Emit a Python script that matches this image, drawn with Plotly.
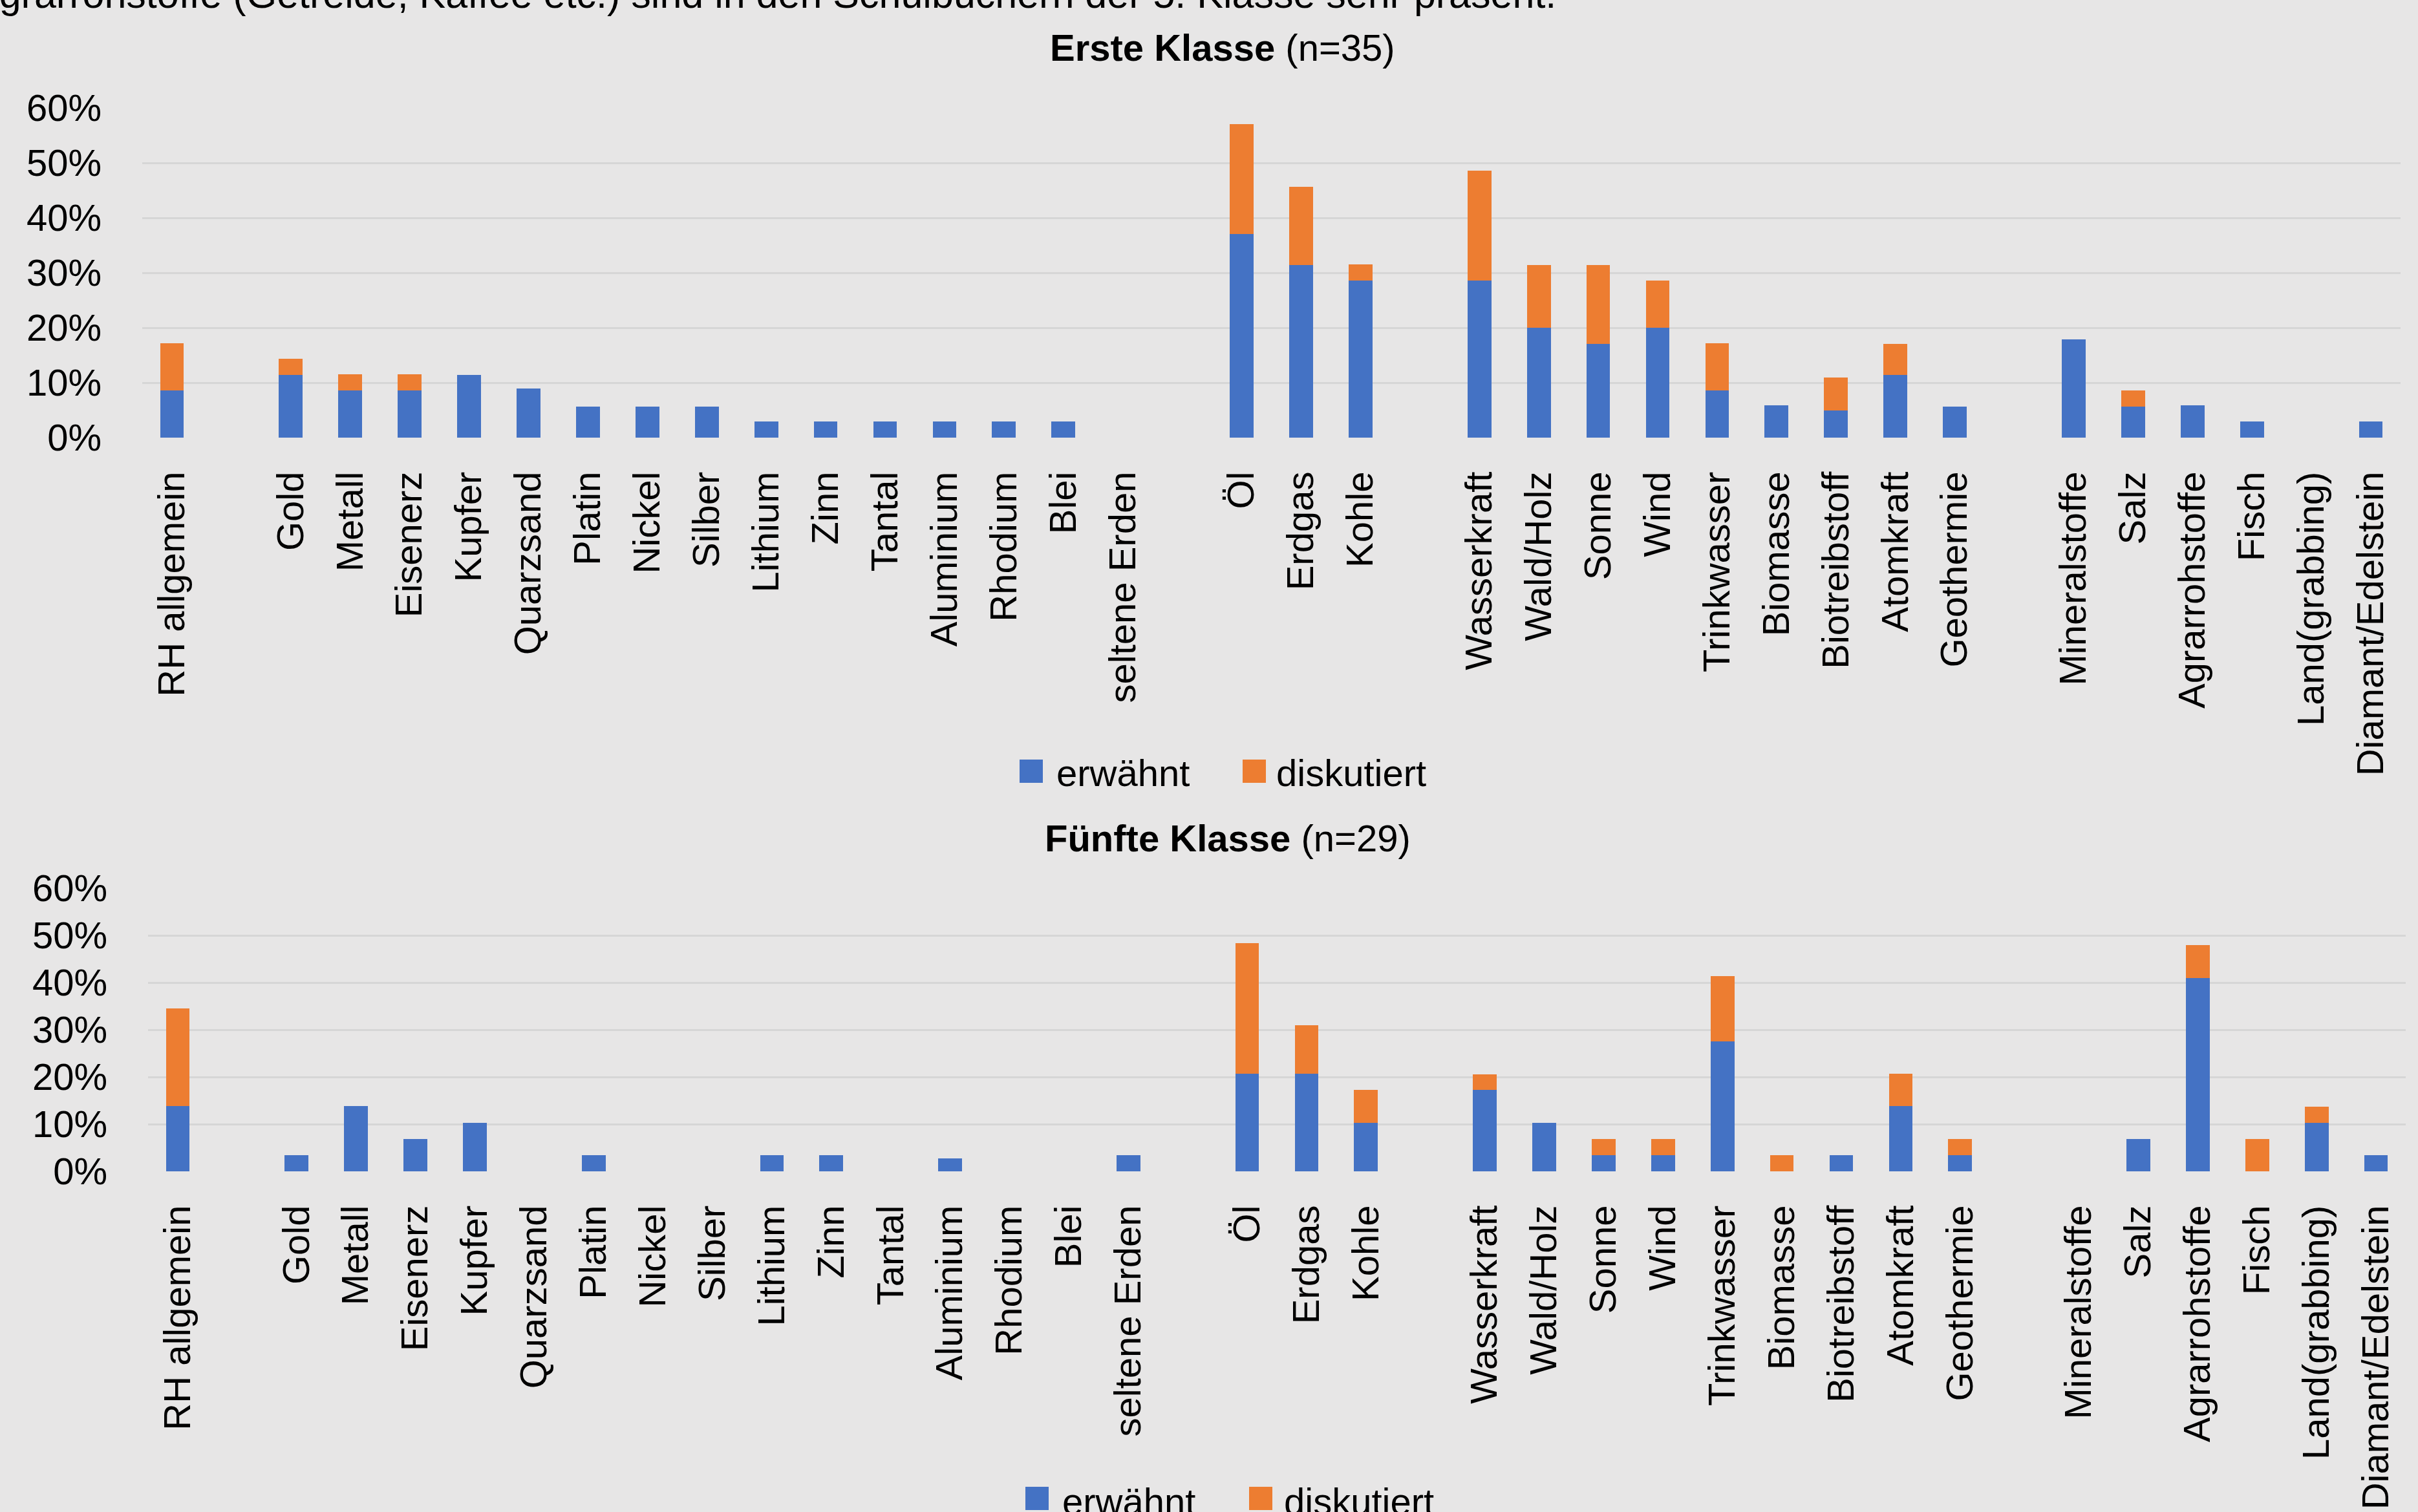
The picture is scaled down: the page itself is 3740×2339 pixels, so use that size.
import plotly.graph_objects as go

# ---------------- data ----------------
categories = ["RH allgemein", " ", "Gold", "Metall", "Eisenerz", "Kupfer", "Quarzsand", "Platin",
              "Nickel", "Silber", "Lithium", "Zinn", "Tantal", "Aluminium", "Rhodium", "Blei",
              "seltene Erden", "  ", "Öl", "Erdgas", "Kohle", "   ", "Wasserkraft", "Wald/Holz",
              "Sonne", "Wind", "Trinkwasser", "Biomasse", "Biotreibstoff", "Atomkraft", "Geothermie",
              "    ", "Mineralstoffe", "Salz", "Agrarrohstoffe", "Fisch", "Land(grabbing)",
              "Diamant/Edelstein"]

# Erste Klasse (n=35), values in %
erste_erwaehnt = [8.6, None, 11.4, 8.6, 8.6, 11.4, 8.9, 5.7, 5.7, 5.7, 2.9, 2.9, 2.9, 2.9, 2.9, 2.9,
                  0, None, 37.1, 31.4, 28.6, None, 28.6, 20.0, 17.1, 20.0, 8.6, 5.9, 4.9, 11.4, 5.7,
                  None, 17.9, 5.7, 5.9, 2.9, 0, 2.9]
erste_diskutiert = [8.6, None, 2.9, 2.9, 2.9, 0, 0, 0, 0, 0, 0, 0, 0, 0, 0, 0,
                    0, None, 20.0, 14.3, 2.9, None, 20.0, 11.4, 14.3, 8.6, 8.6, 0, 6.0, 5.7, 0,
                    None, 0, 2.9, 0, 0, 0, 0]

# Fünfte Klasse (n=29), values in %
fuenfte_erwaehnt = [13.8, None, 3.4, 13.8, 6.9, 10.3, 0, 3.4, 0, 0, 3.4, 3.4, 0, 2.8, 0, 0,
                    3.4, None, 20.7, 20.7, 10.3, None, 17.2, 10.3, 3.4, 3.4, 27.6, 0, 3.4, 13.8, 3.4,
                    None, 0, 6.9, 40.9, 0, 10.3, 3.4]
fuenfte_diskutiert = [20.7, None, 0, 0, 0, 0, 0, 0, 0, 0, 0, 0, 0, 0, 0, 0,
                      0, None, 27.6, 10.3, 6.9, None, 3.4, 0, 3.4, 3.4, 13.8, 3.4, 0, 6.9, 3.4,
                      None, 0, 0, 7.1, 6.9, 3.4, 0]

series_names = ["erwähnt", "diskutiert"]
colors = ["#4472C4", "#ED7D31"]
y_ticks = [0, 10, 20, 30, 40, 50, 60]
y_tick_labels = ["0%", "10%", "20%", "30%", "40%", "50%", "60%"]

title_top = "<b>Erste Klasse</b> (n=35)"
title_bottom = "<b>Fünfte Klasse</b> (n=29)"
cut_text = "Agrarrohstoffe (Getreide, Kaffee etc.) sind in den Schulbüchern der 5. Klasse sehr präsent."

# ---------------- figure ----------------
W, H = 3740, 2339
FONT = "Liberation Sans, Arial, sans-serif"
FS = 58
BG = "#E7E6E6"
GRID = "#D6D6D6"

fig = go.Figure()

for name, vals, col in zip(series_names, [erste_erwaehnt, erste_diskutiert], colors):
    fig.add_trace(go.Bar(x=categories, y=vals, name=name, marker=dict(color=col, line=dict(width=0)),
                         xaxis="x", yaxis="y", showlegend=False, hoverinfo="skip"))
for name, vals, col in zip(series_names, [fuenfte_erwaehnt, fuenfte_diskutiert], colors):
    fig.add_trace(go.Bar(x=categories, y=vals, name=name, marker=dict(color=col, line=dict(width=0)),
                         xaxis="x2", yaxis="y2", showlegend=False, hoverinfo="skip"))


def px_x(p):
    return p / W


def px_y(p):
    return 1 - p / H


xaxis_common = dict(type="category", categoryorder="array", categoryarray=categories,
                    tickangle=-90, tickfont=dict(family=FONT, size=FS, color="black"),
                    showgrid=False, zeroline=False, showline=False, ticks="",
                    automargin=False, fixedrange=True, ticklabelstandoff=40)
yaxis_common = dict(range=[0, 60], tickmode="array", tickvals=y_ticks, ticktext=y_tick_labels,
                    tickfont=dict(family=FONT, size=FS, color="black"),
                    showgrid=True, gridcolor=GRID, gridwidth=2.5, zeroline=False,
                    showline=False, ticks="", automargin=False, fixedrange=True,
                    ticklabelstandoff=62)

fig.update_layout(
    width=W, height=H,
    margin=dict(l=0, r=0, t=0, b=0),
    paper_bgcolor=BG, plot_bgcolor=BG,
    barmode="stack", bargap=0.6,
    font=dict(family=FONT, size=FS, color="black"),
    xaxis=dict(domain=[px_x(220), px_x(3713)], anchor="y", **xaxis_common),
    yaxis=dict(domain=[px_y(677), px_y(167)], anchor="x", **yaxis_common),
    xaxis2=dict(domain=[px_x(229), px_x(3721)], anchor="y2", **xaxis_common),
    yaxis2=dict(domain=[px_y(1812), px_y(1374)], anchor="x2", **yaxis_common),
    showlegend=False,
)

# titles and the clipped caption line at the very top
fig.add_annotation(text=title_top, x=px_x(1891), y=px_y(74), xref="paper", yref="paper",
                   xanchor="center", yanchor="middle", showarrow=False,
                   font=dict(family=FONT, size=FS, color="black"))
fig.add_annotation(text=title_bottom, x=px_x(1899), y=px_y(1297), xref="paper", yref="paper",
                   xanchor="center", yanchor="middle", showarrow=False,
                   font=dict(family=FONT, size=FS, color="black"))
fig.add_annotation(text=cut_text, x=px_x(2409), y=px_y(27), xref="paper", yref="paper",
                   xanchor="right", yanchor="bottom", showarrow=False,
                   font=dict(family=FONT, size=61, color="black"))

# legends (one under each chart): key squares + labels
legend_rows = [
    # (square x-lefts, text x-lefts, square top, row centre)
    ([1577, 1922], [1632, 1972], 1175, 1195),
    ([1586, 1932], [1641, 1984], 2300, 2322),
]
for sq_xs, tx_xs, sq_top, yc in legend_rows:
    for name, col, sx, tx in zip(series_names, colors, sq_xs, tx_xs):
        fig.add_shape(type="rect", xref="paper", yref="paper",
                      x0=px_x(sx), x1=px_x(sx + 36), y0=px_y(sq_top + 36), y1=px_y(sq_top),
                      fillcolor=col, line=dict(width=0))
        fig.add_annotation(text=name, x=px_x(tx), y=px_y(yc), xref="paper", yref="paper",
                           xanchor="left", yanchor="middle", showarrow=False,
                           font=dict(family=FONT, size=FS, color="black"))

post = """
document.documentElement.style.margin = '0';
document.documentElement.style.padding = '0';
document.documentElement.style.overflow = 'hidden';
document.body.style.margin = '0';
document.body.style.padding = '0';
document.body.style.overflow = 'hidden';
"""

fig.write_html("out.html", post_script=post, config=dict(displayModeBar=False))
